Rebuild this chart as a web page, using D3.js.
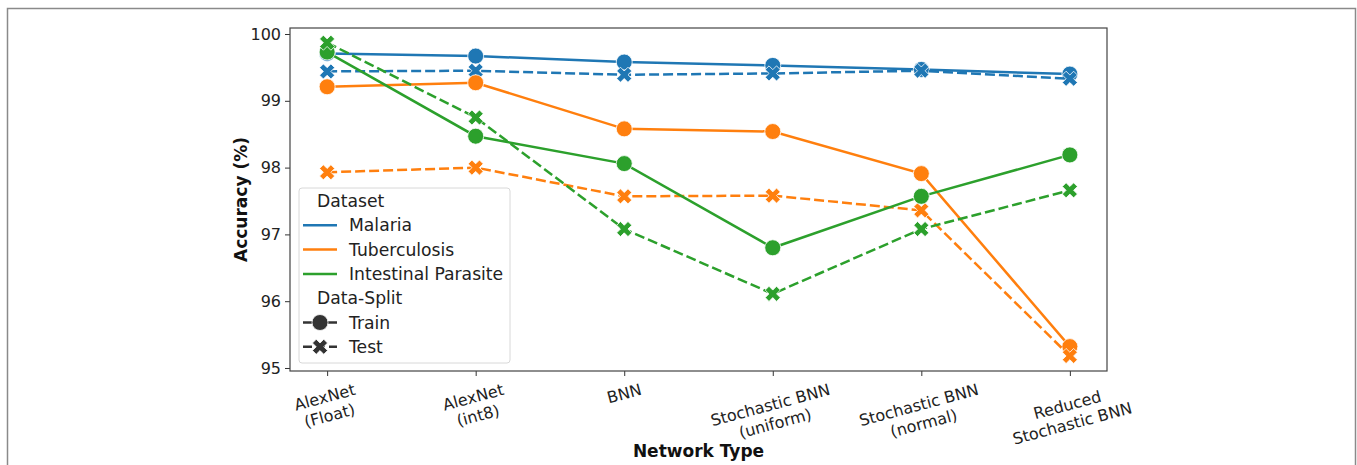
<!DOCTYPE html>
<html>
<head>
<meta charset="utf-8">
<script src="https://cdn.jsdelivr.net/npm/d3@7"></script>
<style>
  html, body { margin: 0; padding: 0; background: #fff; }
  svg { display: block; font-family: "DejaVu Sans", sans-serif; }
</style>
</head>
<body>
<div id="graph-container"></div>
<script>
const networks = ['AlexNet\n(Float)', 'AlexNet\n(int8)', 'BNN', 'Stochastic BNN\n(uniform)', 'Stochastic BNN\n(normal)', 'Reduced\nStochastic BNN'];
const datasets = ['Malaria', 'Tuberculosis', 'Intestinal Parasite'];
const splits = ['Train', 'Test'];
const colors = ['#1f77b4', '#ff7f0e', '#2ca02c'];
const yTicks = [95, 96, 97, 98, 99, 100];

const malariaTrain = [99.71, 99.67, 99.58, 99.53, 99.47, 99.40];
const malariaTest = [99.44, 99.45, 99.39, 99.41, 99.45, 99.33];
const tbTrain = [99.21, 99.27, 98.58, 98.54, 97.91, 95.32];
const tbTest = [97.93, 98.00, 97.57, 97.58, 97.36, 95.18];
const parasiteTrain = [99.73, 98.47, 98.06, 96.80, 97.57, 98.19];
const parasiteTest = [99.87, 98.75, 97.08, 96.11, 97.08, 97.66];

const series = [
  { ds: 0, split: 0, values: malariaTrain },
  { ds: 0, split: 1, values: malariaTest },
  { ds: 1, split: 0, values: tbTrain },
  { ds: 1, split: 1, values: tbTest },
  { ds: 2, split: 0, values: parasiteTrain },
  { ds: 2, split: 1, values: parasiteTest }
];

const W = 1357, H = 465;
const mLeft = 290, mRight = 1107, mTop = 28, mBottom = 371;

const svg = d3.select('#graph-container')
  .append('svg')
  .attr('width', W)
  .attr('height', H);

// outer frame of the figure
svg.append('rect')
  .attr('x', 7.5).attr('y', 8.5)
  .attr('width', 1348).attr('height', 470)
  .attr('fill', 'none')
  .attr('stroke', '#8a8a8a')
  .attr('stroke-width', 1.5);

const xScale = d3.scaleLinear()
  .domain([-0.25, networks.length - 0.75])
  .range([mLeft, mRight]);

const yScale = d3.scaleLinear()
  .domain([94.955, 100.09])
  .range([mBottom, mTop]);

// y axis
const yAxis = svg.append('g')
  .attr('transform', `translate(${mLeft},0)`)
  .call(d3.axisLeft(yScale).tickValues(yTicks).tickFormat(d3.format('d')).tickSize(5).tickPadding(4));
yAxis.select('.domain').remove();
yAxis.selectAll('.tick line').attr('stroke', '#333').attr('stroke-width', 1);
yAxis.selectAll('.tick text')
  .attr('font-size', 16)
  .attr('fill', '#222')
  .attr('font-family', 'DejaVu Sans');

// x axis ticks
const xAxis = svg.append('g')
  .attr('transform', `translate(0,${mBottom})`)
  .call(d3.axisBottom(xScale).tickValues(d3.range(networks.length)).tickFormat('').tickSize(5));
xAxis.select('.domain').remove();
xAxis.selectAll('.tick line').attr('stroke', '#333').attr('stroke-width', 1);

// rotated two-line category labels
const labels = svg.append('g');
networks.forEach((name, i) => {
  const g = labels.append('g');
  const t = g.append('text')
    .attr('text-anchor', 'middle')
    .attr('font-size', 16)
    .attr('fill', '#222');
  const lines = name.split('\n');
  lines.forEach((ln, k) => {
    t.append('tspan').attr('x', 0).attr('dy', k === 0 ? 0 : 19).text(ln);
  });
  const bb = t.node().getBBox();
  const cx = bb.x + bb.width / 2, cy = bb.y + bb.height / 2;
  t.attr('transform', `rotate(-15) translate(${-cx},${-cy})`);
  const hgt = g.node().getBoundingClientRect().height;
  g.attr('transform', `translate(${xScale(i)},${mBottom + 9 + hgt / 2})`);
});

// axis titles
svg.append('text')
  .attr('x', (mLeft + mRight) / 2)
  .attr('y', 457)
  .attr('text-anchor', 'middle')
  .attr('font-size', 17)
  .attr('font-weight', 'bold')
  .attr('fill', '#111')
  .text('Network Type');

svg.append('text')
  .attr('transform', `translate(247,${(mTop + mBottom) / 2}) rotate(-90)`)
  .attr('text-anchor', 'middle')
  .attr('font-size', 17)
  .attr('font-weight', 'bold')
  .attr('fill', '#111')
  .text('Accuracy (%)');

// X marker as filled polygon
function xPath(s) {
  const a = s / 2, b = s / 6;
  const pts = [[b, a], [b, b], [a, b], [a, -b], [b, -b], [b, -a], [-b, -a], [-b, -b], [-a, -b], [-a, b], [-b, b], [-b, a]];
  const c = Math.SQRT1_2;
  return 'M' + pts.map(([x, y]) => [(x - y) * c, (x + y) * c].join(',')).join('L') + 'Z';
}

const line = d3.line()
  .x((d, i) => xScale(i))
  .y(d => yScale(d));

const plot = svg.append('g');

series.forEach(s => {
  const col = colors[s.ds];
  plot.append('path')
    .datum(s.values)
    .attr('d', line)
    .attr('fill', 'none')
    .attr('stroke', col)
    .attr('stroke-width', 2.5)
    .attr('stroke-dasharray', s.split === 1 ? '10,4' : null);

  if (s.split === 0) {
    plot.selectAll(null)
      .data(s.values)
      .enter().append('circle')
      .attr('cx', (d, i) => xScale(i))
      .attr('cy', d => yScale(d))
      .attr('r', 8)
      .attr('fill', col)
      .attr('stroke', '#fff')
      .attr('stroke-width', 0.8);
  } else {
    plot.selectAll(null)
      .data(s.values)
      .enter().append('path')
      .attr('d', xPath(16))
      .attr('transform', (d, i) => `translate(${xScale(i)},${yScale(d)})`)
      .attr('fill', col)
      .attr('stroke', '#fff')
      .attr('stroke-width', 0.8);
  }
});

// plot frame
svg.append('rect')
  .attr('x', mLeft).attr('y', mTop)
  .attr('width', mRight - mLeft).attr('height', mBottom - mTop)
  .attr('fill', 'none')
  .attr('stroke', '#444')
  .attr('stroke-width', 1.2);

// legend
const lg = svg.append('g').attr('transform', 'translate(299,188)');
lg.append('rect')
  .attr('width', 211).attr('height', 175)
  .attr('rx', 3)
  .attr('fill', '#fff')
  .attr('fill-opacity', 0.85)
  .attr('stroke', '#d8d8d8')
  .attr('stroke-width', 1);

const rowY = k => 13 + k * 24.3;
const legendFont = 17.2;

lg.append('text').attr('x', 18).attr('y', rowY(0) + 6).attr('font-size', legendFont).attr('fill', '#222').text('Dataset');
datasets.forEach((name, k) => {
  const y = rowY(k + 1);
  lg.append('line').attr('x1', 4).attr('x2', 38).attr('y1', y).attr('y2', y)
    .attr('stroke', colors[k]).attr('stroke-width', 2.5);
  lg.append('text').attr('x', 50).attr('y', y + 6).attr('font-size', legendFont).attr('fill', '#222').text(name);
});
lg.append('text').attr('x', 18).attr('y', rowY(4) + 6).attr('font-size', legendFont).attr('fill', '#222').text('Data-Split');
splits.forEach((name, k) => {
  const y = rowY(5 + k);
  lg.append('line').attr('x1', 4).attr('x2', 38).attr('y1', y).attr('y2', y)
    .attr('stroke', '#333').attr('stroke-width', 2.5)
    .attr('stroke-dasharray', k === 1 ? '9,4' : null);
  if (k === 0) {
    lg.append('circle').attr('cx', 21).attr('cy', y).attr('r', 8).attr('fill', '#333')
      .attr('stroke', '#fff').attr('stroke-width', 0.8);
  } else {
    lg.append('path').attr('d', xPath(16)).attr('transform', `translate(21,${y})`).attr('fill', '#333')
      .attr('stroke', '#fff').attr('stroke-width', 0.8);
  }
  lg.append('text').attr('x', 50).attr('y', y + 6).attr('font-size', legendFont).attr('fill', '#222').text(name);
});
</script>
</body>
</html>
